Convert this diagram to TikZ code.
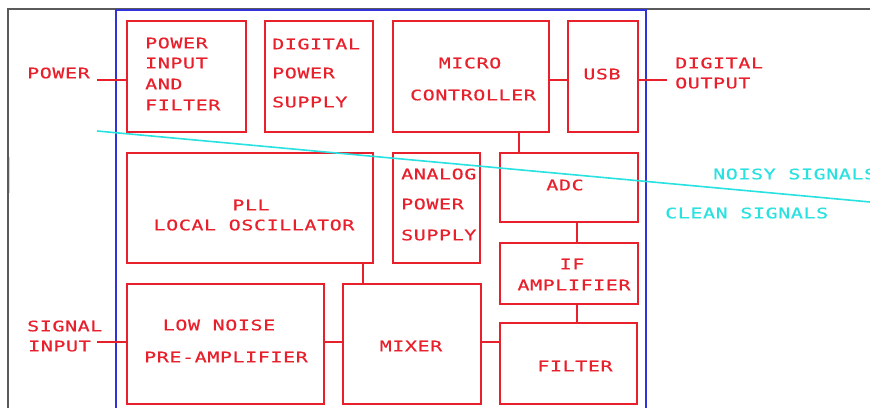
\documentclass[tikz,border=0pt]{standalone}
\usepackage{fontspec}
\newfontfamily\cadfont[FakeStretch=1.38,LetterSpace=4,FakeBold=0.4]{DejaVu Sans Mono}
\definecolor{cadred}{RGB}{232,32,44}
\definecolor{cadblue}{RGB}{50,50,220}
\definecolor{cadcyan}{RGB}{40,225,225}
\definecolor{cadgray}{RGB}{90,90,90}
\tikzset{
  box/.style={draw=cadred, line width=1.5pt, anchor=north west, inner sep=0pt},
  wire/.style={draw=cadred, line width=1.5pt},
  lbl/.style={inner sep=0pt, anchor=west, text=cadred,
    font=\cadfont\fontsize{14.5}{17}\selectfont, text height=10.6pt, text depth=0pt},
  clbl/.style={lbl, anchor=center},
  cyanlbl/.style={lbl, text=cadcyan},
}
\begin{document}
\begin{tikzpicture}[x=1pt,y=-1pt]
\useasboundingbox (0,0) rectangle (870,407);
\clip (0,0) rectangle (870,407);
\fill[white] (0,0) rectangle (870,407);
% frames
\draw[cadgray, line width=1.5pt] (8,420) -- (8,9) -- (880,9);
\draw[cadblue, line width=1.6pt] (116,420) -- (116,10) -- (646,10) -- (646,420);
\draw[cadcyan!50, line width=1pt] (9.5,157) -- (9.5,193);
% boxes
\node[box, minimum width=119, minimum height=111] (pif) at (126,20) {};
\node[box, minimum width=108, minimum height=111] (dps) at (264,20) {};
\node[box, minimum width=156, minimum height=111] (mc) at (392,20) {};
\node[box, minimum width=70, minimum height=111] (usb) at (567,20) {};
\node[box, minimum width=246, minimum height=110] (pll) at (126,152) {};
\node[box, minimum width=87, minimum height=110] (aps) at (392,152) {};
\node[box, minimum width=138, minimum height=69] (adc) at (499,152) {};
\node[box, minimum width=138, minimum height=61] (ifa) at (499,242) {};
\node[box, minimum width=197, minimum height=120] (lna) at (126,283) {};
\node[box, minimum width=138, minimum height=120] (mix) at (342,283) {};
\node[box, minimum width=137, minimum height=81] (flt) at (499,322) {};
% helper coordinates
\coordinate (pw) at (97,80);
\coordinate (dout) at (667,80);
\coordinate (sig) at (97,342);
\coordinate (xa) at (519,0);
\coordinate (xb) at (577,0);
\coordinate (xc) at (363,0);
% connectors
\draw[wire] (pw) -- (pw -| pif.west);
\draw[wire] (mc.east |- pw) -- (usb.west |- pw);
\draw[wire] (usb.east |- dout) -- (dout);
\draw[wire] (mc.south -| xa) -- (adc.north -| xa);
\draw[wire] (adc.south -| xb) -- (ifa.north -| xb);
\draw[wire] (ifa.south -| xb) -- (flt.north -| xb);
\draw[wire] (pll.south -| xc) -- (mix.north -| xc);
\draw[wire] (sig) -- (sig -| lna.west);
\draw[wire] (lna.east |- sig) -- (mix.west |- sig);
\draw[wire] (mix.east |- sig) -- (flt.west |- sig);
% cyan divider
\coordinate (c1) at (97,131);
\coordinate (c2) at (880,202.9);
\draw[cadcyan, line width=1.6pt] (c1) -- (c2);
% labels
\node[lbl] (tpow) at (27,73) {POWER};
\node[lbl] (tsig1) at (27,326) {SIGNAL};
\node[lbl] (tsig2) at (28,346) {INPUT};
\node[lbl] (tp1) at (145,43) {POWER};
\node[lbl] (tp2) at (145,63) {INPUT};
\node[lbl] (tp3) at (145,84) {AND};
\node[lbl] (tp4) at (145,105) {FILTER};
\node[lbl] (td1) at (272,44) {DIGITAL};
\node[lbl] (td2) at (272,73) {POWER};
\node[lbl] (td3) at (272,102) {SUPPLY};
\node[clbl] (tm1) at (470,63) {MICRO};
\node[clbl] (tm2) at (473,95) {CONTROLLER};
\node[clbl] (tusb) at (602,74) {USB};
\node[lbl] (to1) at (675,63) {DIGITAL};
\node[lbl] (to2) at (675,83) {OUTPUT};
\node[clbl] (tl1) at (251,205) {PLL};
\node[clbl] (tl2) at (254,225) {LOCAL OSCILLATOR};
\node[lbl] (ta1) at (401,174) {ANALOG};
\node[lbl] (ta2) at (401,204) {POWER};
\node[lbl] (ta3) at (401,235) {SUPPLY};
\node[clbl] (tadc) at (565,185) {ADC};
\node[clbl] (ti1) at (572,264) {IF};
\node[clbl] (ti2) at (574,285) {AMPLIFIER};
\node[clbl] (tn1) at (219,325) {LOW NOISE};
\node[clbl] (tn2) at (226,357) {PRE-AMPLIFIER};
\node[clbl] (tmix) at (411,346) {MIXER};
\node[clbl] (tflt) at (575,366) {FILTER};
\node[cyanlbl] (tnoisy) at (713,174) {NOISY SIGNALS};
\node[cyanlbl] (tclean) at (665,213) {CLEAN SIGNALS};
\end{tikzpicture}
\end{document}
